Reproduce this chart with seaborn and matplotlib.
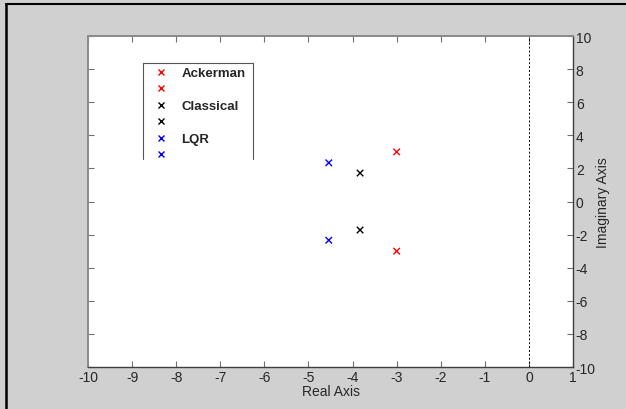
"""Pole locations for three controller designs (root-locus style plot)."""
import pandas as pd
import matplotlib.pyplot as plt
import seaborn as sns
from matplotlib.lines import Line2D

designs = ['Ackerman', 'Classical', 'LQR']
colors = ['#ff0000', '#000000', '#0000ff']
pole_real = {'Ackerman': [-3.0, -3.0], 'Classical': [-3.83, -3.83], 'LQR': [-4.54, -4.54]}
pole_imag = {'Ackerman': [3.0, -3.0], 'Classical': [1.72, -1.72], 'LQR': [2.34, -2.34]}
x_ticks = list(range(-10, 2))
y_ticks = list(range(-10, 11, 2))

rows = []
for d in designs:
    for re, im in zip(pole_real[d], pole_imag[d]):
        rows.append({'design': d, 'real': re, 'imag': im})
df = pd.DataFrame(rows)

sns.set_style('white')
plt.rcParams['font.family'] = ['Liberation Sans', 'DejaVu Sans']
plt.rcParams['axes.unicode_minus'] = False

bg = '#d0d0d0'
fig = plt.figure(figsize=(6.26, 4.10), dpi=100, facecolor=bg)
ax = fig.add_axes([0.1406, 0.1024, 0.7748, 0.8073])
ax.set_facecolor('white')

sns.scatterplot(data=df, x='real', y='imag', hue='design', hue_order=designs,
                palette=colors, marker='x', s=22, linewidth=1.0, legend=False, ax=ax)
ax.axvline(0, color='black', linestyle=(0, (2, 2)), linewidth=0.7)

ax.set_xlim(-10, 1)
ax.set_ylim(-10, 10)
ax.set_xticks(x_ticks)
ax.set_yticks(y_ticks)
ax.yaxis.tick_right()
ax.yaxis.set_label_position('right')
ax.tick_params(direction='in', length=4, width=0.8, color='#707070',
               labelsize=10, top=True, bottom=True, left=True, right=True,
               pad=2)
ax.set_xlabel('Real Axis', fontsize=10, labelpad=0)
ax.set_ylabel('Imaginary Axis', fontsize=10, labelpad=0)

for side in ['top', 'left']:
    ax.spines[side].set_color('#8a8a8a')
    ax.spines[side].set_linewidth(1.4)
for side in ['bottom', 'right']:
    ax.spines[side].set_color('#404040')
    ax.spines[side].set_linewidth(1.0)

# legend: two entries per design (one per pole), label on the first
handles, labels = [], []
for d, c in zip(designs, colors):
    for k in range(2):
        handles.append(Line2D([], [], linestyle='none', marker='x', color=c,
                              markersize=5, markeredgewidth=1.0))
        labels.append(d if k == 0 else '')
leg = ax.legend(handles, labels, loc='upper left', bbox_to_anchor=(0.117, 0.932),
                frameon=False, prop={'weight': 'bold', 'size': 9.5},
                handletextpad=0.92, labelspacing=0.32, handlelength=1.2,
                borderpad=0.15)

# partial legend frame (bottom edge clipped in the original)
fx0, fx1, fy0, fy1 = 0.113, 0.340, 0.627, 0.920
frame_kw = dict(transform=ax.transAxes, color='#555555', linewidth=0.8)
ax.add_line(Line2D([fx0, fx1], [fy1, fy1], **frame_kw))
ax.add_line(Line2D([fx0, fx0], [fy0, fy1], **frame_kw))
ax.add_line(Line2D([fx1, fx1], [fy0, fy1], **frame_kw))

# figure border on the left and top edges
fig.add_artist(Line2D([0.0096, 0.0096], [0, 0.987], transform=fig.transFigure,
                      color='black', linewidth=1.8))
fig.add_artist(Line2D([0.0096, 1], [0.987, 0.987], transform=fig.transFigure,
                      color='black', linewidth=1.5))

fig.savefig('out.png', dpi=100, facecolor=bg)
